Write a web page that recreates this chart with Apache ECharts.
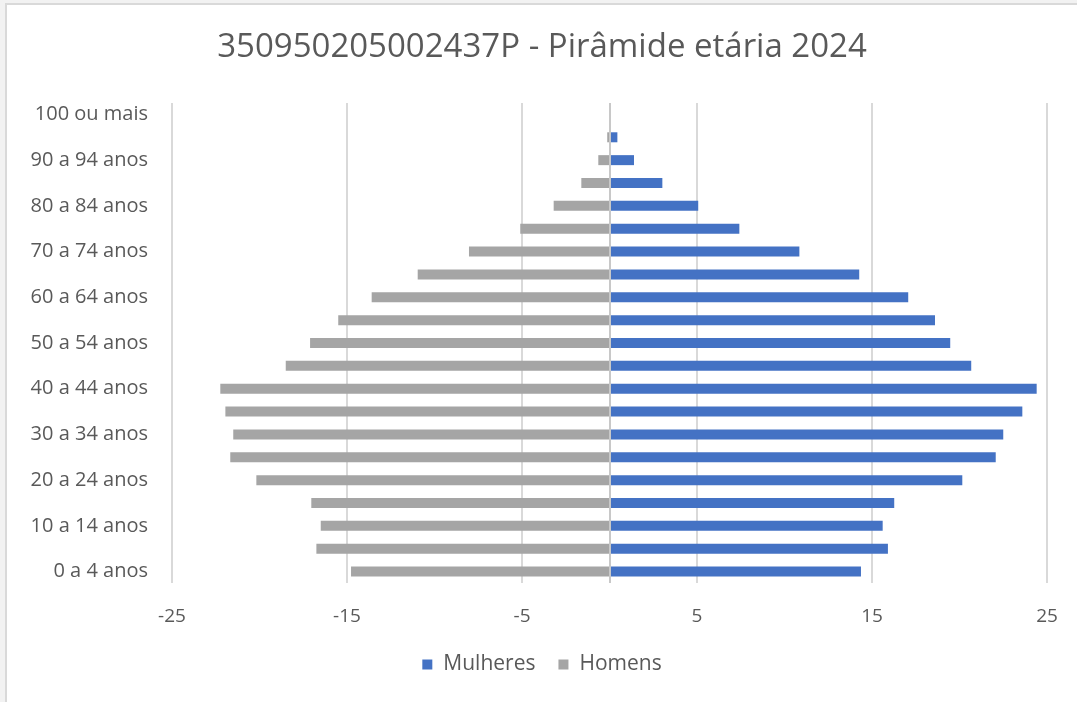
<!DOCTYPE html>
<html>
<head>
<meta charset="utf-8">
<script src="https://cdn.jsdelivr.net/npm/echarts@6/dist/echarts.min.js"></script>
<style>
html,body{margin:0;padding:0;background:#f2f2f2;}
#wrap{position:absolute;left:5px;top:3px;width:1072px;height:699px;background:#fff;border-left:2px solid #d9d9d9;border-top:2px solid #d9d9d9;box-sizing:border-box;}
#chart{width:100%;height:100%;}
</style>
</head>
<body>
<div id="wrap"><div id="chart"></div></div>
<script>
const categories = ['0 a 4 anos','5 a 9 anos','10 a 14 anos','15 a 19 anos','20 a 24 anos','25 a 29 anos','30 a 34 anos','35 a 39 anos','40 a 44 anos','45 a 49 anos','50 a 54 anos','55 a 59 anos','60 a 64 anos','65 a 69 anos','70 a 74 anos','75 a 79 anos','80 a 84 anos','85 a 89 anos','90 a 94 anos','95 a 99 anos','100 ou mais'];
const mulheres = [14.37, 15.91, 15.61, 16.27, 20.16, 22.07, 22.5, 23.59, 24.41, 20.67, 19.47, 18.6, 17.07, 14.27, 10.85, 7.42, 5.07, 3.02, 1.4, 0.45, 0];
const homens = [-14.77, -16.75, -16.5, -17.04, -20.18, -21.67, -21.5, -21.95, -22.24, -18.5, -17.11, -15.5, -13.59, -10.96, -8.03, -5.1, -3.19, -1.61, -0.64, -0.13, 0];
const xTicks = {min: -25, max: 25, interval: 10};
const title = '350950205002437P - Pirâmide etária 2024';

const chart = echarts.init(document.getElementById('chart'));
const font = '"Open Sans", Lato, sans-serif';
chart.setOption({
  animation: false,
  textStyle: {fontFamily: font},
  title: {
    text: title, left: 'center', top: 21,
    textStyle: {fontFamily: font, fontSize: 33, fontWeight: 'normal', color: '#595959'}
  },
  legend: {
    bottom: 22, left: 'center', itemWidth: 10, itemHeight: 10, itemGap: 23,
    icon: 'rect',
    textStyle: {fontFamily: font, fontSize: 21, color: '#595959', padding: [0, 0, 0, 6]},
    data: ['Mulheres', 'Homens']
  },
  grid: {left: 165, right: 30, top: 98, bottom: 119, containLabel: false},
  xAxis: {
    type: 'value', min: xTicks.min, max: xTicks.max, interval: xTicks.interval,
    axisLine: {show: false}, axisTick: {show: false},
    axisLabel: {color: '#595959', fontSize: 19, margin: 24, fontFamily: font},
    splitLine: {lineStyle: {color: '#d9d9d9', width: 2}}
  },
  yAxis: {
    type: 'category', data: categories,
    axisLine: {show: false}, axisTick: {show: false},
    axisLabel: {interval: 1, color: '#595959', fontSize: 20, margin: 24, fontFamily: font}
  },
  series: [
    {
      name: 'Mulheres', type: 'bar', stack: 'total', data: mulheres, barWidth: 10,
      itemStyle: {color: '#4472C4'},
      markLine: {
        silent: true, symbol: 'none', label: {show: false},
        lineStyle: {color: '#c8c8c8', width: 2, type: 'solid'},
        data: [{xAxis: 0}]
      }
    },
    {
      name: 'Homens', type: 'bar', stack: 'total', data: homens, barWidth: 10,
      itemStyle: {color: '#A5A5A5'}
    }
  ]
});
</script>
</body>
</html>
